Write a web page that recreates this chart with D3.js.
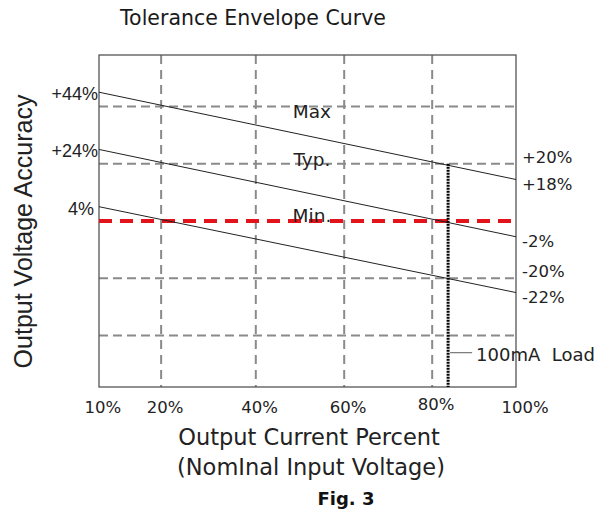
<!DOCTYPE html>
<html><head><meta charset="utf-8">
<script src="https://cdn.jsdelivr.net/npm/d3@7"></script>
<style>body{margin:0;background:#fff}svg{display:block}</style>
</head><body>
<svg id="chart" width="610" height="517"></svg>
<script>
// ---- data ----
const loads = [10, 100];                       // x values of curve end points (% load)
const maxCurve = [45, 14.5];                   // output accuracy (%) at loads
const typCurve = [25, -5.5];
const minCurve = [5, -25];
const curveNames = ["Max", "Typ.", "Min."];
const curveNameY = [36, 19.2, -0.4];
const leftLabels = ["+44%", "+24%", "4%"];
const rightLabels = ["+18%", "-2%", "-22%"];
const xTicks = [10, 20, 40, 60, 80, 100];
const xTickLabels = ["10%", "20%", "40%", "60%", "80%", "100%"];
const yGrid = [40, 20, -20, -40];
const yGridLabels = ["+20%", "-20%"];
const yGridLabelValues = [20, -20];
const nominal = [0];
const loadMarker = 83.8;      // 100mA load position (% load)
const loadMarkerTop = 20;
const loadLabelValue = -46;
const loadLabel = "100mA  Load";

// ---- layout ----
const svg = d3.select("#chart");
const L = 99, R = 516, T = 55, B = 387, W = R - L;
const x = d3.scaleLinear()
  .domain(xTicks)
  .range([0, 0.149, 0.376, 0.588, 0.799, 1].map(f => L + f * W));
const y = d3.scaleLinear().domain([-58, 58]).range([B, T]);

const FONT = "'DejaVu Sans', sans-serif";
const ARIAL = "'Liberation Sans', Arial, sans-serif";

// gridlines
svg.append("g").selectAll("line").data(xTicks.slice(1, -1)).join("line")
  .attr("x1", d => x(d)).attr("x2", d => x(d)).attr("y1", T).attr("y2", B)
  .attr("stroke", "#8a8a8a").attr("stroke-width", 2).attr("stroke-dasharray", "9,6");
svg.append("g").selectAll("line").data(yGrid).join("line")
  .attr("x1", L).attr("x2", R).attr("y1", d => y(d)).attr("y2", d => y(d))
  .attr("stroke", "#8a8a8a").attr("stroke-width", 2).attr("stroke-dasharray", "9,5");

// frame
svg.append("rect").attr("x", L).attr("y", T).attr("width", W).attr("height", B - T)
  .attr("fill", "none").attr("stroke", "#555").attr("stroke-width", 1.3);

// nominal red dashed line
svg.append("g").selectAll("line").data(nominal).join("line")
  .attr("x1", L).attr("x2", R).attr("y1", d => y(d)).attr("y2", d => y(d))
  .attr("stroke", "#e3131b").attr("stroke-width", 4).attr("stroke-dasharray", "13,8");

// curves
const curves = [maxCurve, typCurve, minCurve];
const line = d3.line().x((d, i) => x(loads[i])).y(d => y(d));
svg.append("g").selectAll("path").data(curves).join("path")
  .attr("d", d => line(d)).attr("fill", "none").attr("stroke", "#222").attr("stroke-width", 1);

// 100mA load marker
svg.append("line")
  .attr("x1", x(loadMarker)).attr("x2", x(loadMarker))
  .attr("y1", y(loadMarkerTop)).attr("y2", B)
  .attr("stroke", "#000").attr("stroke-width", 3).attr("stroke-dasharray", "2,1");
svg.append("line")
  .attr("x1", x(loadMarker) + 2).attr("x2", x(loadMarker) + 24)
  .attr("y1", y(loadLabelValue)).attr("y2", y(loadLabelValue))
  .attr("stroke", "#777").attr("stroke-width", 1.2);
svg.append("text").attr("x", x(loadMarker) + 28).attr("y", y(loadLabelValue) + 8)
  .attr("font-family", FONT).attr("font-size", 18).attr("fill", "#222")
  .style("white-space", "pre").text(loadLabel);

// curve names
svg.append("g").selectAll("text").data(curveNames).join("text")
  .attr("x", x(52.7)).attr("y", (d, i) => y(curveNameY[i]))
  .attr("text-anchor", "middle").attr("font-family", FONT).attr("font-size", 18.5)
  .attr("fill", "#222").text(d => d);

// left labels
svg.append("g").selectAll("text").data(leftLabels).join("text")
  .attr("x", (d, i) => i === 2 ? L - 5 : L - 1).attr("y", (d, i) => y(curves[i][0]) + 8)
  .attr("text-anchor", "end").attr("font-family", ARIAL).attr("font-size", 18)
  .attr("fill", "#222").text(d => d);

// right labels
svg.append("g").selectAll("text").data(rightLabels).join("text")
  .attr("x", R + 6).attr("y", (d, i) => y(curves[i][1]) + 10)
  .attr("font-family", FONT).attr("font-size", 16.5).attr("fill", "#222").text(d => d);
svg.append("g").selectAll("text").data(yGridLabels).join("text")
  .attr("x", R + 6).attr("y", (d, i) => y(yGridLabelValues[i]) - 1)
  .attr("font-family", FONT).attr("font-size", 16.5).attr("fill", "#222").text(d => d);

// x axis tick labels
const xAxis = d3.axisBottom(x).tickValues(xTicks).tickFormat((d, i) => xTickLabels[i]).tickSize(0);
const gx = svg.append("g").attr("transform", `translate(0,${B})`).call(xAxis);
gx.select(".domain").remove();
gx.selectAll("text").attr("font-family", FONT).attr("font-size", 16.5).attr("fill", "#222")
  .attr("text-anchor", "start").attr("dx", -15).attr("dy", 0).attr("y", (d) => d === 80 ? 23 : 26);

// titles
svg.append("text").attr("x", 253).attr("y", 25).attr("text-anchor", "middle")
  .attr("font-family", FONT).attr("font-size", 20.5).attr("fill", "#1a1a1a").text("Tolerance Envelope Curve");
svg.append("text").attr("x", 309).attr("y", 445).attr("text-anchor", "middle")
  .attr("font-family", FONT).attr("font-size", 22.5).attr("fill", "#222").text("Output Current Percent");
svg.append("text").attr("x", 311).attr("y", 475).attr("text-anchor", "middle")
  .attr("font-family", FONT).attr("font-size", 22.5).attr("fill", "#222").text("(NomInal Input Voltage)");
svg.append("text").attr("x", 346).attr("y", 505).attr("text-anchor", "middle")
  .attr("font-family", FONT).attr("font-size", 18).attr("font-weight", "bold").attr("fill", "#111").text("Fig. 3");
svg.append("text").attr("transform", "translate(32,231.5) rotate(-90)").attr("text-anchor", "middle")
  .attr("font-family", ARIAL).attr("font-size", 25).attr("fill", "#222").text("Output Voltage Accuracy");
</script>
</body></html>
